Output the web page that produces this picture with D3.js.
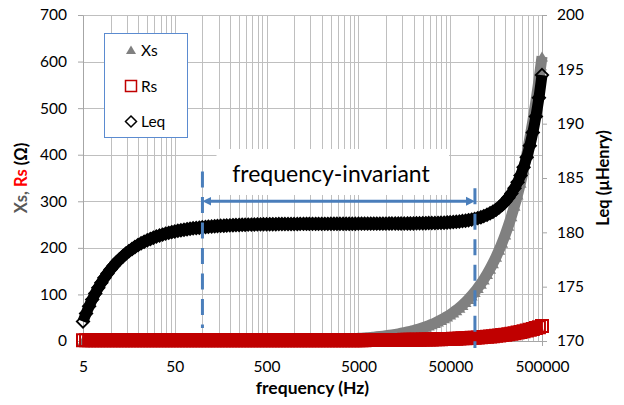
<!DOCTYPE html>
<html>
<head>
<meta charset="utf-8">
<script src="https://cdn.jsdelivr.net/npm/d3@7"></script>
<style>
  body { margin: 0; background: #fff; }
  svg { display: block; font-family: Lato, "Open Sans", sans-serif; }
</style>
</head>
<body>
<svg id="chart" width="624" height="405"></svg>
<script>
// Frequency sweep (Hz)
const freq = [
  5, 5.4, 5.83, 6.3, 6.8, 7.34, 7.92, 8.56, 9.24, 9.98,
  10.8, 11.6, 12.6, 13.6, 14.6, 15.8, 17.1, 18.4, 19.9, 21.5,
  23.2, 25.1, 27.1, 29.2, 31.5, 34.1, 36.8, 39.7, 42.9, 46.3,
  50, 54, 58.3, 63, 68, 73.4, 79.2, 85.6, 92.4, 99.8,
  108, 116, 126, 136, 146, 158, 171, 184, 199, 215,
  232, 251, 271, 292, 315, 341, 368, 397, 429, 463,
  500, 540, 583, 630, 680, 734, 792, 856, 924, 998,
  1080, 1160, 1260, 1360, 1460, 1580, 1710, 1840, 1990, 2150,
  2320, 2510, 2710, 2920, 3150, 3410, 3680, 3970, 4290, 4630,
  5000, 5400, 5830, 6300, 6800, 7340, 7920, 8560, 9240, 9980,
  10800, 11600, 12600, 13600, 14600, 15800, 17100, 18400, 19900, 21500,
  23200, 25100, 27100, 29200, 31500, 34100, 36800, 39700, 42900, 46300,
  50000, 54000, 58300, 63000, 68000, 73400, 79200, 85600, 92400, 99800,
  108000, 116000, 126000, 136000, 146000, 158000, 171000, 184000, 199000, 215000,
  232000, 251000, 271000, 292000, 315000, 341000, 368000, 397000, 429000, 463000,
  500000
];

// Series reactance Xs (ohm)
const xsOhm = [
  0.0054, 0.0059, 0.0063, 0.0069, 0.0075, 0.0081, 0.0087, 0.0095, 0.0102, 0.0111,
  0.0120, 0.0129, 0.0141, 0.0152, 0.0163, 0.0177, 0.0192, 0.0207, 0.0224, 0.0242,
  0.0261, 0.0283, 0.0305, 0.0329, 0.0355, 0.0385, 0.0416, 0.0449, 0.0485, 0.0524,
  0.0566, 0.0611, 0.0660, 0.0713, 0.0770, 0.0832, 0.0898, 0.0970, 0.1048, 0.1132,
  0.1225, 0.1316, 0.1429, 0.1543, 0.1657, 0.1793, 0.1940, 0.2088, 0.2259, 0.2441,
  0.2634, 0.2849, 0.3077, 0.3315, 0.3577, 0.3872, 0.4179, 0.4508, 0.4872, 0.5258,
  0.568, 0.613, 0.662, 0.716, 0.772, 0.834, 0.900, 0.972, 1.050, 1.134,
  1.227, 1.318, 1.431, 1.545, 1.658, 1.795, 1.942, 2.090, 2.260, 2.442,
  2.635, 2.851, 3.078, 3.317, 3.578, 3.874, 4.180, 4.510, 4.873, 5.259,
  5.68, 6.13, 6.62, 7.16, 7.73, 8.34, 9.00, 9.72, 10.50, 11.34,
  12.27, 13.18, 14.31, 15.45, 16.59, 17.95, 19.43, 20.91, 22.61, 24.43,
  26.36, 28.52, 30.79, 33.18, 35.79, 38.75, 41.82, 45.12, 48.76, 52.63,
  56.84, 61.39, 66.29, 71.65, 77.35, 83.51, 90.13, 97.44, 105.22, 113.69,
  123.09, 132.28, 143.78, 155.31, 166.86, 180.76, 195.87, 211.04, 228.62, 247.46,
  267.61, 290.28, 314.34, 339.86, 368.11, 400.47, 434.60, 471.90, 513.95, 559.69,
  610.95
];

// Series resistance Rs (ohm)
const rsOhm = [
  1.5, 1.5, 1.5, 1.5, 1.5, 1.5, 1.5, 1.5, 1.5, 1.5,
  1.5, 1.5, 1.5, 1.5, 1.5, 1.5, 1.5, 1.5, 1.5, 1.5,
  1.5, 1.5, 1.5, 1.5, 1.5, 1.5, 1.5, 1.5, 1.5, 1.5,
  1.5, 1.5, 1.5, 1.5, 1.5, 1.5, 1.5, 1.5, 1.5, 1.5,
  1.5, 1.5, 1.5, 1.5, 1.5, 1.5, 1.5, 1.5, 1.5, 1.5,
  1.5, 1.5, 1.5, 1.5, 1.5, 1.5, 1.5, 1.5, 1.5, 1.5,
  1.53, 1.53, 1.54, 1.54, 1.54, 1.54, 1.55, 1.55, 1.56, 1.56,
  1.57, 1.57, 1.58, 1.58, 1.59, 1.60, 1.60, 1.61, 1.62, 1.63,
  1.64, 1.65, 1.67, 1.68, 1.69, 1.71, 1.72, 1.74, 1.76, 1.78,
  1.81, 1.83, 1.86, 1.88, 1.91, 1.95, 1.98, 2.02, 2.06, 2.11,
  2.16, 2.21, 2.27, 2.33, 2.39, 2.46, 2.54, 2.62, 2.71, 2.81,
  2.92, 3.03, 3.15, 3.28, 3.42, 3.58, 3.74, 3.92, 4.12, 4.32,
  4.55, 4.79, 5.06, 5.34, 5.65, 5.98, 6.33, 6.72, 7.14, 7.59,
  8.09, 8.58, 9.19, 9.80, 10.41, 11.14, 11.93, 12.72, 13.64, 14.62,
  15.65, 16.81, 18.03, 19.31, 20.72, 22.30, 23.95, 25.72, 27.67, 29.74,
  32.00
];

// Equivalent inductance Leq (uH)
const leqMicroH = [
  171.80, 172.53, 173.20, 173.81, 174.38, 174.90, 175.37, 175.81, 176.22, 176.59,
  176.93, 177.24, 177.53, 177.79, 178.04, 178.26, 178.46, 178.65, 178.83, 178.99,
  179.13, 179.27, 179.39, 179.51, 179.61, 179.71, 179.79, 179.88, 179.95, 180.02,
  180.08, 180.14, 180.19, 180.24, 180.29, 180.33, 180.37, 180.40, 180.43, 180.46,
  180.49, 180.52, 180.54, 180.56, 180.58, 180.60, 180.61, 180.63, 180.64, 180.66,
  180.67, 180.68, 180.69, 180.70, 180.71, 180.71, 180.72, 180.73, 180.73, 180.74,
  180.74, 180.75, 180.75, 180.75, 180.76, 180.76, 180.76, 180.77, 180.77, 180.77,
  180.77, 180.78, 180.78, 180.78, 180.78, 180.78, 180.78, 180.78, 180.78, 180.78,
  180.78, 180.79, 180.79, 180.79, 180.79, 180.79, 180.79, 180.79, 180.79, 180.79,
  180.80, 180.80, 180.80, 180.80, 180.80, 180.80, 180.80, 180.80, 180.80, 180.80,
  180.81, 180.81, 180.81, 180.81, 180.81, 180.81, 180.82, 180.82, 180.82, 180.83,
  180.83, 180.84, 180.84, 180.85, 180.85, 180.86, 180.87, 180.88, 180.89, 180.91,
  180.93, 180.95, 180.97, 181.00, 181.04, 181.07, 181.12, 181.17, 181.23, 181.31,
  181.39, 181.49, 181.61, 181.75, 181.89, 182.08, 182.30, 182.54, 182.84, 183.18,
  183.58, 184.06, 184.61, 185.24, 185.99, 186.91, 187.96, 189.18, 190.67, 192.39,
  194.47
];

// Axis ticks
const xTickLabels = [5, 50, 500, 5000, 50000, 500000];
const yLeftTicks = [0, 100, 200, 300, 400, 500, 600, 700];
const yRightTicks = [170, 175, 180, 185, 190, 195, 200];

// Annotation: flat-inductance band (Hz) and its label
const bandEdges = [100, 93000];
const bandLabel = "frequency-invariant";
const arrowLevel = 300;            // left-axis units
const leftDashSpan = [28, 364];    // left-axis units
const rightDashSpan = [-15, 328];  // left-axis units

const legendItems = ["Xs", "Rs", "Leq"];

const COL_XS = "#808080", COL_RS = "#C00000", COL_LEQ = "#000000";
const COL_GRID = "#BFBFBF", COL_BLUE = "#4A7EBB";

const svg = d3.select("#chart");
const plot = { left: 83, right: 542, top: 15, bottom: 341 };

const x = d3.scaleLog().domain([5, 500000]).range([plot.left, plot.right]);
const yL = d3.scaleLinear().domain([0, 700]).range([plot.bottom, plot.top]);
const yR = d3.scaleLinear().domain([170, 200]).range([plot.bottom, plot.top]);

// Vertical grid: 1..9 multiples inside each decade that starts at a labelled tick
const xGrid = [];
xTickLabels.slice(0, -1).forEach(d => { for (let k = 1; k < 10; k++) xGrid.push(d * k); });
xGrid.push(xTickLabels[xTickLabels.length - 1]);

const grid = svg.append("g").attr("shape-rendering", "crispEdges");
grid.selectAll("line.v").data(xGrid).join("line")
  .attr("x1", d => Math.round(x(d)) + 0.5).attr("x2", d => Math.round(x(d)) + 0.5)
  .attr("y1", plot.top).attr("y2", plot.bottom)
  .attr("stroke", COL_GRID).attr("stroke-width", 1);
grid.selectAll("line.h").data(yLeftTicks).join("line")
  .attr("x1", plot.left).attr("x2", plot.right)
  .attr("y1", d => Math.round(yL(d)) + 0.5).attr("y2", d => Math.round(yL(d)) + 0.5)
  .attr("stroke", COL_GRID).attr("stroke-width", 1);

// Axes
function styleAxis(g) {
  g.attr("font-family", null).attr("font-size", null);
  g.selectAll("path.domain").attr("stroke", "#A6A6A6");
  g.selectAll(".tick line").attr("stroke", "#A6A6A6");
  g.selectAll(".tick text").attr("fill", "#000").style("font-size", "15.5px");
}
svg.append("g").attr("transform", `translate(${plot.left},0)`)
  .call(d3.axisLeft(yL).tickValues(yLeftTicks).tickSize(5).tickPadding(11).tickSizeOuter(0))
  .call(styleAxis);
svg.append("g").attr("transform", `translate(${plot.right},0)`)
  .call(d3.axisRight(yR).tickValues(yRightTicks).tickSize(5).tickPadding(10).tickSizeOuter(0))
  .call(styleAxis);
svg.append("g").attr("transform", `translate(0,${plot.bottom})`)
  .call(d3.axisBottom(x).tickValues(xTickLabels).tickFormat(d3.format("d")).tickSize(5).tickPadding(15).tickSizeOuter(0))
  .call(styleAxis);

// Marker shapes
const triPath = "M0,-5L6,5L-6,5Z";
const sqPath = "M-6,-6H6V6H-6Z";
const diaPath = "M0,-6.2L6.2,0L0,6.2L-6.2,0Z";

const pts = freq.map((f, i) => ({ f, xs: xsOhm[i], rs: rsOhm[i], leq: leqMicroH[i] }));

// Each series: a marker-wide trace through its points (the dense sweep reads as a band), then the markers
function band(yAcc, color, width) {
  svg.append("path")
    .datum(pts)
    .attr("d", d3.line().x(d => x(d.f)).y(yAcc).curve(d3.curveMonotoneX))
    .attr("fill", "none").attr("stroke", color).attr("stroke-width", width)
    .attr("stroke-linejoin", "round");
}

band(d => yL(d.xs), COL_XS, 11);
svg.append("g").selectAll("path").data(pts).join("path")
  .attr("d", triPath)
  .attr("transform", d => `translate(${x(d.f)},${yL(d.xs)})`)
  .attr("fill", COL_XS);

band(d => yL(d.rs), COL_RS, 12);
svg.append("g").selectAll("path").data(pts).join("path")
  .attr("d", sqPath)
  .attr("transform", d => `translate(${x(d.f)},${yL(d.rs)})`)
  .attr("fill", "none").attr("stroke", COL_RS).attr("stroke-width", 2);

band(d => yR(d.leq), COL_LEQ, 11);
svg.append("g").selectAll("path").data(pts).join("path")
  .attr("d", diaPath)
  .attr("transform", d => `translate(${x(d.f)},${yR(d.leq)})`)
  .attr("fill", "none").attr("stroke", COL_LEQ).attr("stroke-width", 1.8);

// Annotation
const ann = svg.append("g");
const xa = x(bandEdges[0]), xb = x(bandEdges[1]);
ann.append("rect")
  .attr("x", 216.5).attr("y", 149).attr("width", 232.5).attr("height", 46)
  .attr("fill", "#fff");
ann.append("text")
  .attr("x", 331).attr("y", 181.5).attr("text-anchor", "middle")
  .style("font-size", "23px").attr("fill", "#000")
  .text(bandLabel);

const dash = "16 9.5";
ann.append("line")
  .attr("x1", xa).attr("x2", xa)
  .attr("y1", yL(leftDashSpan[1])).attr("y2", yL(leftDashSpan[0]))
  .attr("stroke", COL_BLUE).attr("stroke-width", 3).attr("stroke-dasharray", dash);
ann.append("line")
  .attr("x1", xb).attr("x2", xb)
  .attr("y1", yL(rightDashSpan[1])).attr("y2", yL(rightDashSpan[0]))
  .attr("stroke", COL_BLUE).attr("stroke-width", 3).attr("stroke-dasharray", dash);

const defs = svg.append("defs");
defs.append("marker").attr("id", "arrowHead")
  .attr("viewBox", "0 0 10 10").attr("refX", 5).attr("refY", 5)
  .attr("markerWidth", 9).attr("markerHeight", 10)
  .attr("markerUnits", "userSpaceOnUse").attr("orient", "auto-start-reverse")
  .append("path").attr("d", "M0,0L10,5L0,10Z").attr("fill", COL_BLUE);
ann.append("line")
  .attr("x1", xa + 4.5).attr("x2", xb - 4.5)
  .attr("y1", yL(arrowLevel)).attr("y2", yL(arrowLevel))
  .attr("stroke", COL_BLUE).attr("stroke-width", 3)
  .attr("marker-start", "url(#arrowHead)").attr("marker-end", "url(#arrowHead)");

// Legend
const lg = svg.append("g");
lg.append("rect").attr("x", 104.5).attr("y", 33.5).attr("width", 83).attr("height", 104)
  .attr("fill", "#fff").attr("stroke", "#5B8BD0").attr("stroke-width", 1);
const legendY = [50, 86, 121.5];
const legendShapes = [
  { d: "M0,-4.5L5,4L-5,4Z", fill: COL_XS, stroke: "none", sw: 0 },
  { d: "M-5.5,-5.5H5.5V5.5H-5.5Z", fill: "#fff", stroke: COL_RS, sw: 1.5 },
  { d: "M0,-5.5L5.5,0L0,5.5L-5.5,0Z", fill: "#fff", stroke: COL_LEQ, sw: 1.5 }
];
legendItems.forEach((name, i) => {
  const s = legendShapes[i];
  lg.append("path").attr("d", s.d)
    .attr("transform", `translate(131,${legendY[i]})`)
    .attr("fill", s.fill).attr("stroke", s.stroke).attr("stroke-width", s.sw);
  lg.append("text").attr("x", 141).attr("y", legendY[i]).attr("dy", "0.36em")
    .style("font-size", "15.5px").attr("fill", "#000").text(name);
});

// Axis titles
svg.append("text")
  .attr("x", (plot.left + plot.right) / 2).attr("y", 394)
  .attr("text-anchor", "middle").attr("font-weight", "bold")
  .style("font-size", "17.5px").attr("fill", "#000")
  .text("frequency (Hz)");

const lt = svg.append("text")
  .attr("transform", `translate(27,${(plot.top + plot.bottom) / 2}) rotate(-90)`)
  .attr("text-anchor", "middle").attr("font-weight", "bold")
  .style("font-size", "16.5px");
lt.append("tspan").attr("fill", "#595959").text("Xs, ");
lt.append("tspan").attr("fill", "#FF0000").text("Rs");
lt.append("tspan").attr("fill", "#000").text(" (Ω)");

svg.append("text")
  .attr("transform", `translate(609,${(plot.top + plot.bottom) / 2}) rotate(-90)`)
  .attr("text-anchor", "middle").attr("font-weight", "bold")
  .style("font-size", "16.5px").attr("fill", "#000")
  .text("Leq (µHenry)");
</script>
</body>
</html>
